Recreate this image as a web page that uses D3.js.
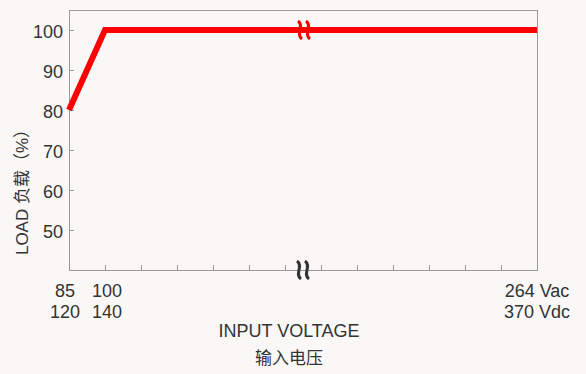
<!DOCTYPE html>
<html>
<head>
<meta charset="utf-8">
<script src="https://cdn.jsdelivr.net/npm/d3@7"></script>
<style>
  body { margin: 0; background: #faf8f7; }
  svg text { font-family: "Liberation Sans", Arial, sans-serif; fill: #333; }
</style>
</head>
<body>
<div class="derating"></div>
<script>
'use strict';

// input voltage steps (broken axis, index based) and load in %
var xIndex = [0, 1, 13];
var loadValues = [80, 100, 100];
var yTicks = [50, 60, 70, 80, 90, 100];
var acLabels = ["85", "100", "264 Vac"];
var dcLabels = ["120", "140", "370 Vdc"];
var minorTicks = d3.range(1, 13);

var width = 586, height = 374;
var margin = {top: 10, right: 49, bottom: 104, left: 69};

var svg = d3.select("div.derating")
    .append("svg")
    .attr("width", width)
    .attr("height", height);

svg.append("rect").attr("width", width).attr("height", height).attr("fill", "#faf8f7");

var x = d3.scaleLinear().domain([0, 13]).range([margin.left, width - margin.right]);
var y = d3.scaleLinear().domain([40, 105]).range([height - margin.bottom, margin.top]);

var frame = "#999";

// bottom axis, ticks pointing inward
svg.append("g")
    .attr("transform", "translate(0," + y(40) + ")")
    .call(d3.axisBottom(x).tickValues(minorTicks).tickSize(-5).tickFormat(""))
    .call(function(g) {
        g.select(".domain").remove();
        g.selectAll("line").attr("stroke", frame);
    });

// left axis
svg.append("g")
    .attr("transform", "translate(" + x(0) + ",0)")
    .call(d3.axisLeft(y).tickValues(yTicks).tickSize(-5).tickPadding(6))
    .call(function(g) {
        g.select(".domain").remove();
        g.selectAll("line").attr("stroke", frame);
        g.selectAll("text").style("font-size", "18px").style("fill", "#333")
            .attr("dy", "0.42em").attr("x", -6);
    });

// frame
svg.append("rect")
    .attr("x", x(0) + 0.5).attr("y", y(105) + 0.5)
    .attr("width", x(13) - x(0)).attr("height", y(40) - y(105))
    .attr("fill", "none").attr("stroke", frame);

// derating line
var line = d3.line()
    .x(function(d, i) { return x(xIndex[i]); })
    .y(function(d) { return y(d); });

svg.append("path")
    .datum(loadValues)
    .attr("d", line)
    .attr("fill", "none")
    .attr("stroke", "#ff0000")
    .attr("stroke-width", 6)
    .attr("stroke-linejoin", "miter");

// axis break marks
function breakMark(cx, cy, color) {
    var g = svg.append("g").attr("transform", "translate(" + cx + "," + cy + ")");
    [-4, 4].forEach(function(dx) {
        g.append("path")
            .attr("d", "M" + (dx - 2) + ",-9 C" + (dx + 5) + ",-4 " + (dx - 5) + ",4 " + (dx + 2) + ",9")
            .attr("fill", "none").attr("stroke", color).attr("stroke-width", 3);
    });
}
breakMark(304, y(100), "#ff0000");
breakMark(303, y(40), "#333");

// x labels
var labelShift = [-4, 2, 0];

svg.selectAll("text.ac")
    .data(acLabels)
    .enter().append("text")
    .attr("class", "ac")
    .attr("x", function(d, i) { return x(xIndex[i]) + labelShift[i]; })
    .attr("y", 297)
    .attr("text-anchor", "middle")
    .style("font-size", "18px")
    .text(function(d) { return d; });

svg.selectAll("text.dc")
    .data(dcLabels)
    .enter().append("text")
    .attr("class", "dc")
    .attr("x", function(d, i) { return x(xIndex[i]) + labelShift[i]; })
    .attr("y", 318)
    .attr("text-anchor", "middle")
    .style("font-size", "18px")
    .text(function(d) { return d; });

svg.append("text")
    .attr("x", 289).attr("y", 337)
    .attr("text-anchor", "middle")
    .style("font-size", "18px")
    .text("INPUT VOLTAGE");

svg.append("text")
    .attr("x", 289).attr("y", 364)
    .attr("text-anchor", "middle")
    .style("font-size", "17px")
    .style("font-family", "'Noto Sans CJK SC', sans-serif")
    .text("输入电压");

svg.append("text")
    .attr("transform", "translate(28,188) rotate(-90)")
    .attr("text-anchor", "middle")
    .style("font-size", "17px")
    .style("font-family", "'Liberation Sans', 'Noto Sans CJK SC', sans-serif")
    .text("LOAD 负载（%）");
</script>
</body>
</html>
